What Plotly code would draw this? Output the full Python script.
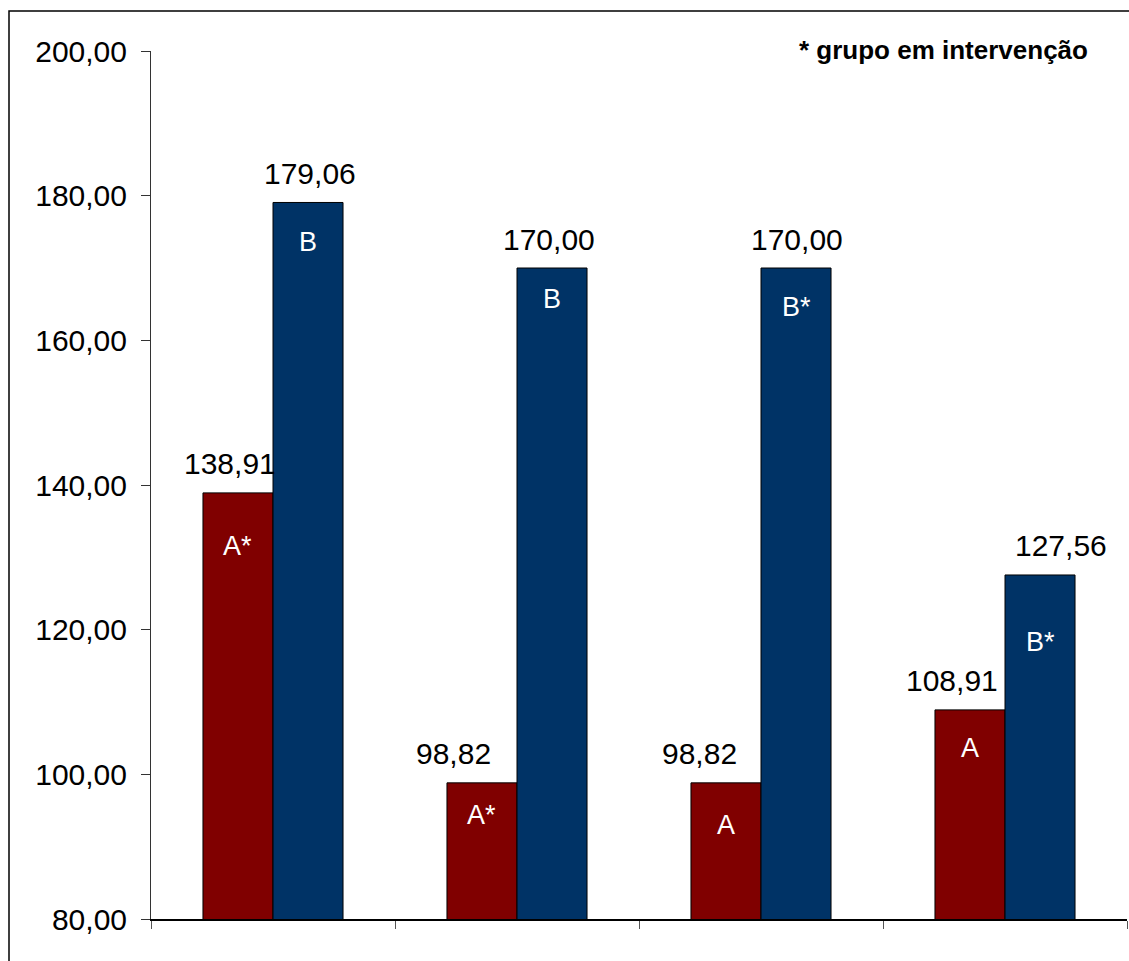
import plotly.graph_objects as go

# Data
categories = ["1", "2", "3", "4"]
values_a = [138.91, 98.82, 98.82, 108.91]
values_b = [179.06, 170.00, 170.00, 127.56]
inner_a = ["A*", "A*", "A", "A"]
inner_b = ["B", "B", "B*", "B*"]
y_ticks = [80, 100, 120, 140, 160, 180, 200]
note_text = "<b>* grupo em intervenção</b>"

# Styling
RED = "#800000"
BLUE = "#003366"
FONT = "Liberation Sans, Arial, sans-serif"
BARGAP = 0.426

# Plot area in pixels
PLOT_L, PLOT_R, PLOT_T, PLOT_B = 151, 1127, 51, 919
pw, ph = PLOT_R - PLOT_L, PLOT_B - PLOT_T

# Per-label nudges (pixels) for readability
value_xshift_a = [-8, -28, -26, -18]
value_xshift_b = [2, -3, 1, 21]
inner_drop_a = [53, 32, 42, 38]
inner_drop_b = [40, 31, 39, 67]


def fmt(v):
    return f"{v:.2f}".replace(".", ",")


fig = go.Figure()
fig.add_trace(go.Bar(x=categories, y=values_a, marker=dict(color=RED, line=dict(color="black", width=1))))
fig.add_trace(go.Bar(x=categories, y=values_b, marker=dict(color=BLUE, line=dict(color="black", width=1))))

half = (1 - BARGAP) / 4  # offset of each bar centre from its category centre
annotations = []
for i in range(len(categories)):
    for vals, labels, xs, drops, sgn in (
        (values_a, inner_a, value_xshift_a, inner_drop_a, -1),
        (values_b, inner_b, value_xshift_b, inner_drop_b, 1),
    ):
        xc = i + sgn * half
        annotations.append(dict(x=xc, y=vals[i], xref="x", yref="y", text=fmt(vals[i]),
                                showarrow=False, yanchor="middle", yshift=29, xshift=xs[i],
                                font=dict(family=FONT, size=30, color="black")))
        annotations.append(dict(x=xc, y=vals[i], xref="x", yref="y", text=labels[i],
                                showarrow=False, yanchor="middle", yshift=-drops[i],
                                font=dict(family=FONT, size=27, color="white")))

annotations.append(dict(x=(1090 - PLOT_L) / pw, y=(PLOT_B - 50) / ph, xref="paper", yref="paper",
                        text=note_text, showarrow=False, xanchor="right", yanchor="middle",
                        font=dict(family=FONT, size=26, color="black")))

fig.update_layout(
    width=1129, height=961,
    margin=dict(l=PLOT_L, r=1129 - PLOT_R, t=PLOT_T, b=961 - PLOT_B),
    paper_bgcolor="white", plot_bgcolor="white",
    barmode="group", bargap=BARGAP, bargroupgap=0,
    showlegend=False,
    font=dict(family=FONT, color="black"),
    annotations=annotations,
    xaxis=dict(type="category", showticklabels=False, ticks="outside", tickson="boundaries",
               ticklen=8, tickcolor="#555", showline=True, linecolor="black", linewidth=1.5,
               showgrid=False, zeroline=False),
    yaxis=dict(range=[80, 200], tickvals=y_ticks, ticktext=[fmt(v) for v in y_ticks],
               ticks="outside", ticklen=9, tickcolor="#333", showline=True, linecolor="#333",
               linewidth=1, showgrid=False, zeroline=False, ticklabelstandoff=8,
               tickfont=dict(family=FONT, size=30, color="black")),
    shapes=[dict(type="rect", xref="paper", yref="paper",
                 x0=(9 - PLOT_L) / pw, x1=(1140 - PLOT_L) / pw,
                 y0=(PLOT_B - 975) / ph, y1=(PLOT_B - 11) / ph,
                 line=dict(color="black", width=1.5), layer="below")],
)

fig.write_html("out.html")
